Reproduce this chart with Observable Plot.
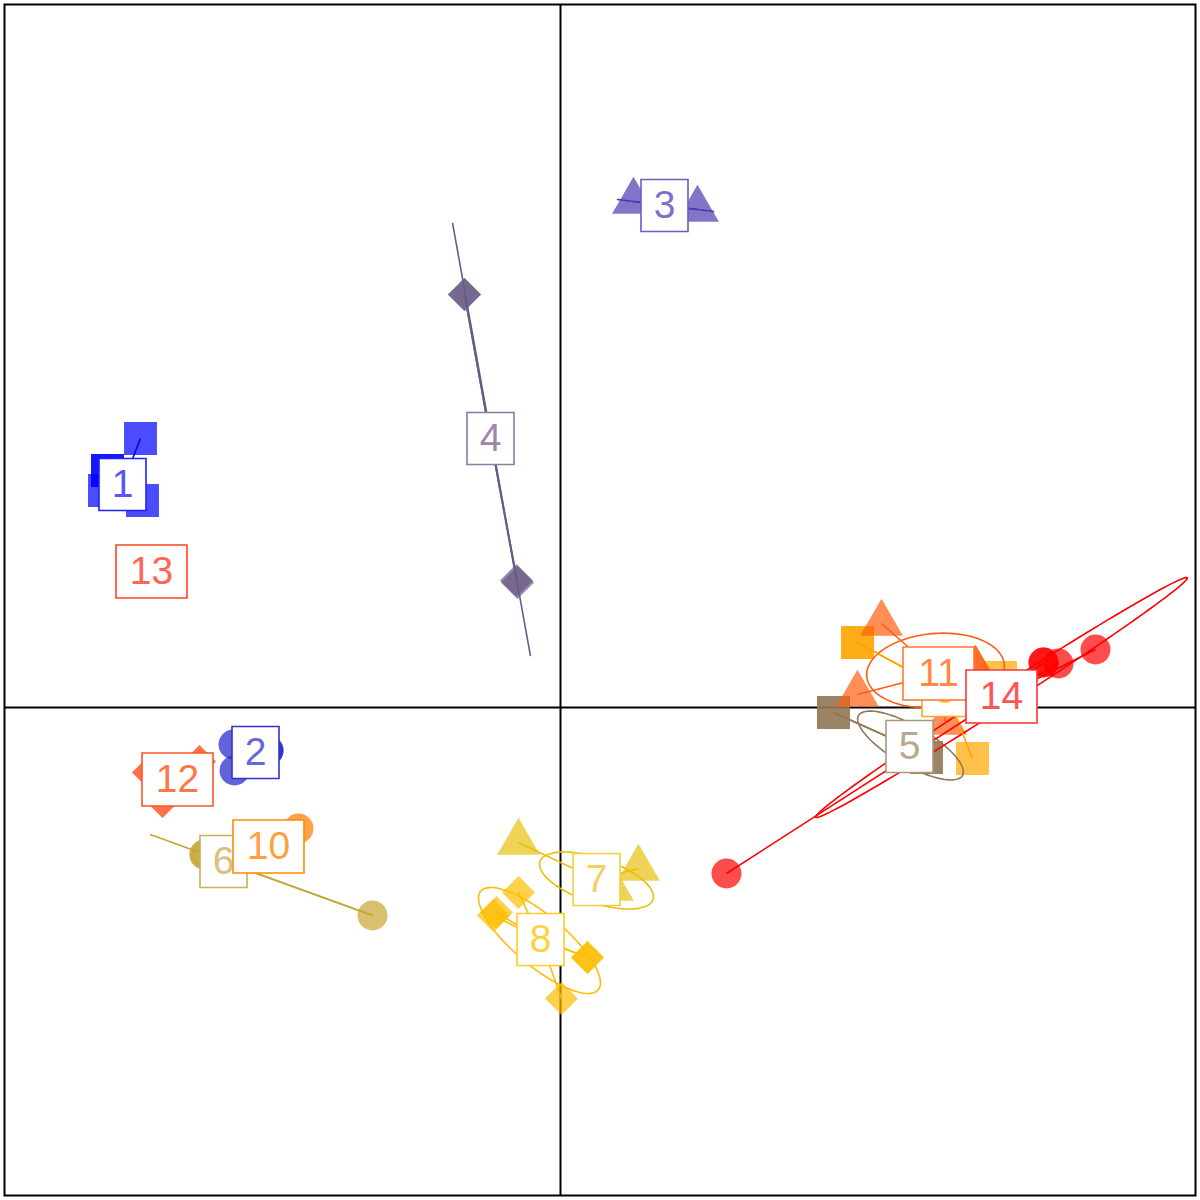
<!DOCTYPE html>
<html><head><meta charset="utf-8">
<script src="https://cdn.jsdelivr.net/npm/d3@7"></script>
<script src="https://cdn.jsdelivr.net/npm/@observablehq/plot@0.6"></script>
<style>body{margin:0;background:#fff}</style>
</head><body><div id="chart"></div>
<script>
// groups (classes) of the s.class plot
const groups = ["1","2","3","4","5","6","7","8","9","10","11","12","13","14"];
const groupShape = ["square","circle","triangle","diamond2","square","circle","triangle","diamond2","square","circle","triangle","diamond2","square","circle"];
const groupColor = ["#0000FF","#2020CC","#4A3AB0","#6A5A85","#927855","#C7A533","#E8C010","#FFBC00","#FFA500","#FF7A00","#FF5E10","#FF3300","#FF2200","#FF0000"];
const labelStroke = ["#2020FF","#3333CC","#6A5ACD","#8A7AA0","#A89880","#C8B060","#F0D040","#FFCC22","#FFA520","#FF8C00","#FF7733","#FF5522","#FF4422","#FF3333"];
const labelText = ["#5555FF","#6666DD","#8070C8","#9A8AA8","#B8A890","#D8C080","#F0D060","#FFD040","#FFC040","#FFA040","#FF8844","#FF7744","#FF6655","#FF5555"];
// centroid / label positions
const labelX = [-4.38,-3.05,1.04,-0.70,3.49,-3.37,0.36,-0.20,3.85,-2.92,3.78,-3.83,-4.09,4.41];
const labelY = [2.23,-0.45,5.02,2.69,-0.39,-1.54,-1.72,-2.32,0.17,-1.39,0.34,-0.72,1.36,0.11];

// individual points
const pointGroup = [1,1,1,1,1, 2,2,2,2, 3,3, 4,4,4,4, 5,5,5,5, 6,6,6, 7,7,7, 8,8,8,8,8,8, 9,9,9,9, 10, 11,11,11,11,11, 12,12,12, 14,14,14,14,14];
const pointX = [-4.20,-4.53,-4.53,-4.56,-4.18, -3.27,-3.26,-2.92,-2.92, 0.73,1.37, -0.96,-0.96,-0.43,-0.44, 2.73,2.73,3.66,3.66, -3.56,-3.56,-1.88, -0.42,0.78,0.52, -0.42,-0.67,-0.64,0.27,0.27,0.01, 2.97,2.97,4.40,4.12, -2.62, 3.21,2.97,4.15,4.15,3.85, -4.12,-3.61,-3.98, 4.83,4.83,4.98,5.35,1.66];
const pointY = [2.69,2.37,2.37,2.17,2.07, -0.37,-0.63,-0.43,-0.43, 5.06,4.98, 4.13,4.13,1.25,1.27, -0.05,-0.05,-0.50,-0.50, -1.47,-1.47,-2.08, -1.35,-1.61,-1.81, -1.85,-2.08,-2.05,-2.50,-2.50,-2.91, 0.65,0.65,0.30,-0.51, -1.21, 0.84,0.13,0.38,0.38,-0.15, -0.65,-0.54,-0.94, 0.45,0.45,0.44,0.58,-1.66];

// ellipses (centre, semi-axes, rotation in degrees)
const ellGroup = [3,4,5,6,7,8,11,14];
const ellCx = [1.05,-0.69,3.50,-2.99,0.36,-0.21,3.75,4.41];
const ellCy = [5.02,2.68,-0.38,-1.675,-1.73,-2.33,0.37,0.10];
const ellA = [0.484,2.195,0.60,1.18,0.596,0.767,0.69,2.21];
const ellB = [0,0,0.195,0,0.224,0.254,0.37,0.095];
const ellAngle = [-7.1,-79.8,-30,-20,-18.6,-40,5,32.8];

const points = pointGroup.map((g,i)=>({g, x:pointX[i], y:pointY[i], shape:groupShape[g-1], color:groupColor[g-1], lx:labelX[g-1], ly:labelY[g-1]}));
const labels = groups.map((name,i)=>({name, x:labelX[i], y:labelY[i], stroke:labelStroke[i], text:labelText[i]}));
const ellPts = [];
ellGroup.forEach((g,i)=>{
  const phi = ellAngle[i]*Math.PI/180;
  for(let k=0;k<120;k++){
    const t = 2*Math.PI*k/120;
    const ca = ellA[i]*Math.cos(t), sb = ellB[i]*Math.sin(t);
    ellPts.push({g, color:groupColor[g-1],
      x: ellCx[i] + ca*Math.cos(phi) - sb*Math.sin(phi),
      y: ellCy[i] + ca*Math.sin(phi) + sb*Math.cos(phi)});
  }
});

const box1 = {draw(ctx){ctx.rect(-23.5,-26,47,52);}};
const box2 = {draw(ctx){ctx.rect(-35.5,-26.5,71,53);}};
const rOf = {square:18.6, circle:15, triangle:15.9, diamond2:14.9};

const labelMarks = labels.flatMap(l => [
  Plot.dot([l], {x:"x", y:"y", symbol: l.name.length>1?box2:box1, r:10, fill:"white", stroke:l.stroke, strokeWidth:1.6}),
  Plot.text([l], {x:"x", y:"y", text:"name", fill:l.text, fontSize:39, fontFamily:"Liberation Sans, Arial, sans-serif"})
]);

const chart = Plot.plot({
  width:1200, height:1200,
  marginLeft:4, marginTop:4, marginRight:5, marginBottom:5,
  x:{domain:[-5.56,6.35], axis:null},
  y:{domain:[-4.88,7.03], axis:null},
  marks:[
    Plot.ruleX([0], {stroke:"black", strokeWidth:2}),
    Plot.ruleY([0], {stroke:"black", strokeWidth:2}),
    ...["square","circle","triangle","diamond2"].map(s =>
      Plot.dot(points.filter(p=>p.shape===s), {x:"x", y:"y", symbol:s, r:rOf[s], fill:d=>d.color, fillOpacity:0.7, stroke:"none"})),
    Plot.line(ellPts, {x:"x", y:"y", z:"g", stroke:d=>d.color, strokeWidth:1.6, curve:"linear-closed"}),
    Plot.link(points, {x1:"lx", y1:"ly", x2:"x", y2:"y", stroke:d=>d.color, strokeWidth:1.6}),
    ...labelMarks,
    Plot.frame({stroke:"black", strokeWidth:2})
  ]
});
document.getElementById("chart").appendChild(chart);
</script>
</body></html>
